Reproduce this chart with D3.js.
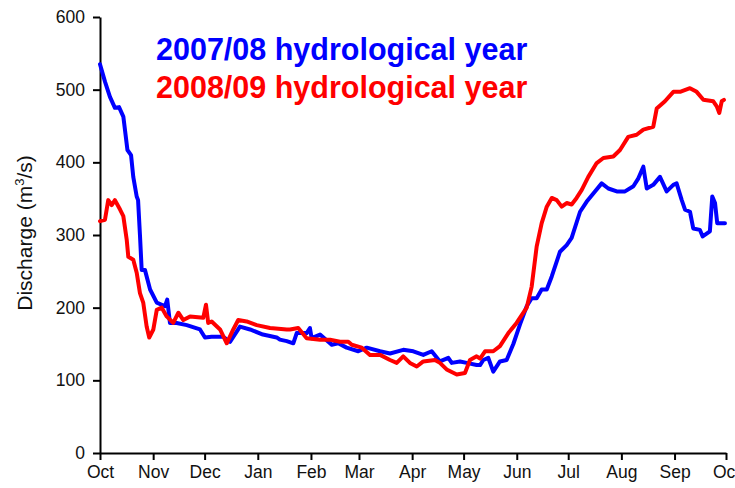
<!DOCTYPE html>
<html>
<head>
<meta charset="utf-8">
<script src="https://cdn.jsdelivr.net/npm/d3@7/dist/d3.min.js"></script>
<style>
  html, body { margin: 0; padding: 0; background: #fff; }
  svg { display: block; font-family: "Liberation Sans", Arial, sans-serif; }
</style>
</head>
<body>
<svg id="chart" width="735" height="488"></svg>
<script>
// Daily discharge through the hydrological year (day 0 = 1 October)
const monthLabels = ["Oct", "Nov", "Dec", "Jan", "Feb", "Mar", "Apr", "May", "Jun", "Jul", "Aug", "Sep", "Oct"];
const monthStartDays = [0, 31, 61, 92, 123, 151, 182, 212, 243, 273, 304, 335, 365];
const yTicks = [0, 100, 200, 300, 400, 500, 600];

// 2007/08 hydrological year: [day, discharge m3/s]
const year0708 = [
  [0, 535], [2.9, 511], [5.8, 490], [8.7, 475], [11.1, 476], [13.6, 463], [16.0, 417],
  [18.1, 410], [19.4, 380], [21.4, 353], [22.2, 348], [23.3, 300], [24.3, 252], [26.2, 252],
  [29.2, 225], [33.1, 207], [37.9, 202], [39.2, 211], [40.8, 179], [44.7, 179], [50.6, 176],
  [58.3, 170], [61.2, 159], [65.1, 160], [71.7, 160], [75.8, 153], [81.6, 174], [87.5, 170],
  [95.0, 163], [103.0, 159], [104.9, 156], [108.9, 154], [112.7, 151], [114.7, 165],
  [120.5, 165], [122.4, 172], [123.4, 158], [128.3, 163], [135.1, 149], [138.9, 151],
  [143.8, 145], [150.6, 140], [155.5, 145], [163.3, 140], [169.1, 137], [176.8, 142],
  [182.7, 140], [188.5, 135], [193.4, 140], [198.2, 126], [203.1, 131], [205.1, 124],
  [209.9, 126], [213.8, 124], [219.6, 121], [221.6, 121], [223.5, 128], [226.4, 131],
  [229.3, 112], [233.2, 126], [237.1, 128], [241.0, 150], [244.9, 177], [248.8, 202],
  [251.7, 213], [254.6, 213], [257.5, 225], [260.5, 225], [263.4, 243], [268.2, 277],
  [272.1, 286], [275.0, 296], [279.9, 332], [283.8, 346], [288.6, 360], [292.5, 371],
  [296.4, 364], [301.3, 360], [306.1, 360], [311.0, 367], [313.9, 378], [316.8, 394],
  [318.8, 364], [322.6, 369], [326.5, 380], [330.4, 360], [334.3, 369], [336.2, 371],
  [339.2, 348], [341.1, 335], [344.0, 332], [345.9, 309], [349.8, 307], [351.4, 298],
  [355.6, 305], [357.0, 353], [358.6, 344], [359.9, 316], [364.4, 316]
];

// 2008/09 hydrological year: [day, discharge m3/s]
const year0809 = [
  [0, 319], [2.9, 321], [4.8, 348], [6.8, 341], [8.7, 348], [11.7, 335], [13.6, 326],
  [15.6, 293], [16.5, 270], [19.4, 266], [21.4, 248], [23.3, 220], [25.2, 207], [27.2, 174],
  [28.7, 159], [31.1, 170], [33.1, 197], [36.0, 200], [38.9, 188], [42.7, 179], [45.7, 193],
  [48.6, 183], [52.5, 188], [60.2, 186], [61.8, 204], [63.1, 179], [65.1, 181], [70.0, 170],
  [73.9, 151], [77.7, 170], [80.6, 183], [85.5, 181], [91.4, 176], [99.1, 172], [108.9, 170],
  [110.8, 170], [115.6, 172], [120.5, 158], [128.3, 156], [134.1, 156], [139.9, 153],
  [144.8, 153], [146.8, 149], [152.6, 145], [157.4, 135], [163.3, 135], [169.1, 128],
  [173.0, 124], [176.8, 133], [180.7, 124], [184.7, 119], [188.5, 126], [195.3, 128],
  [198.2, 124], [202.1, 115], [208.0, 108], [212.8, 110], [215.7, 128], [219.6, 133],
  [221.6, 130], [224.5, 140], [229.3, 140], [233.2, 147], [238.1, 165], [242.9, 179],
  [248.8, 200], [251.7, 229], [254.6, 284], [257.5, 316], [260.5, 339], [263.4, 351],
  [266.3, 348], [269.2, 339], [272.1, 344], [275.0, 342], [277.9, 351], [280.9, 362],
  [284.7, 380], [289.6, 399], [293.5, 406], [299.3, 408], [303.2, 417], [308.0, 435],
  [312.9, 438], [316.8, 445], [322.6, 449], [324.6, 474], [329.4, 484], [334.3, 497],
  [338.2, 497], [344.0, 502], [347.9, 497], [351.8, 486], [357.6, 484], [359.6, 477],
  [361.1, 468], [362.5, 484], [363.8, 486]
];

const seriesNames = ["2007/08 hydrological year", "2008/09 hydrological year"];
const seriesColors = ["#0000ff", "#ff0000"];

const svg = d3.select("#chart");
const margin = { left: 100, right: 9, top: 17, bottom: 35 };
const width = 735, height = 488;

const x = d3.scaleLinear().domain([0, 365]).range([margin.left, width - margin.right]);
const y = d3.scaleLinear().domain([0, 600]).range([height - margin.bottom, margin.top]);

// Axes
const xAxis = d3.axisBottom(x)
  .tickValues(monthStartDays)
  .tickFormat((d, i) => monthLabels[i])
  .tickSize(7).tickPadding(6).tickSizeOuter(0);
const yAxis = d3.axisLeft(y)
  .tickValues(yTicks)
  .tickSize(7).tickPadding(8).tickSizeOuter(0);

const gx = svg.append("g").attr("transform", `translate(0,${y(0)})`).call(xAxis);
const gy = svg.append("g").attr("transform", `translate(${x(0)},0)`).call(yAxis);
[gx, gy].forEach(g => {
  g.selectAll("path, line").attr("stroke", "#000").attr("stroke-width", 2);
  g.selectAll("text").attr("fill", "#111").style("font-size", "17.5px")
    .style("font-family", "'Liberation Sans', Arial, sans-serif");
});

// Y-axis title
const yTitle = svg.append("text")
  .attr("transform", `translate(32,233) rotate(-90)`)
  .attr("text-anchor", "middle")
  .attr("fill", "#111")
  .style("font-size", "21px");
yTitle.append("tspan").text("Discharge (m");
yTitle.append("tspan").text("3").attr("dy", -8).style("font-size", "13px");
yTitle.append("tspan").text("/s)").attr("dy", 8);

// Series lines
const line = d3.line().x(d => x(d[0])).y(d => y(d[1]));
[year0708, year0809].forEach((data, i) => {
  svg.append("path")
    .datum(data)
    .attr("fill", "none")
    .attr("stroke", seriesColors[i])
    .attr("stroke-width", 4)
    .attr("stroke-linejoin", "round")
    .attr("stroke-linecap", "round")
    .attr("d", line);
});

// Series titles
seriesNames.forEach((name, i) => {
  svg.append("text")
    .attr("x", 156)
    .attr("y", 60 + i * 38)
    .attr("fill", seriesColors[i])
    .style("font-size", "30.5px")
    .style("font-weight", "bold")
    .text(name);
});
</script>
</body>
</html>
